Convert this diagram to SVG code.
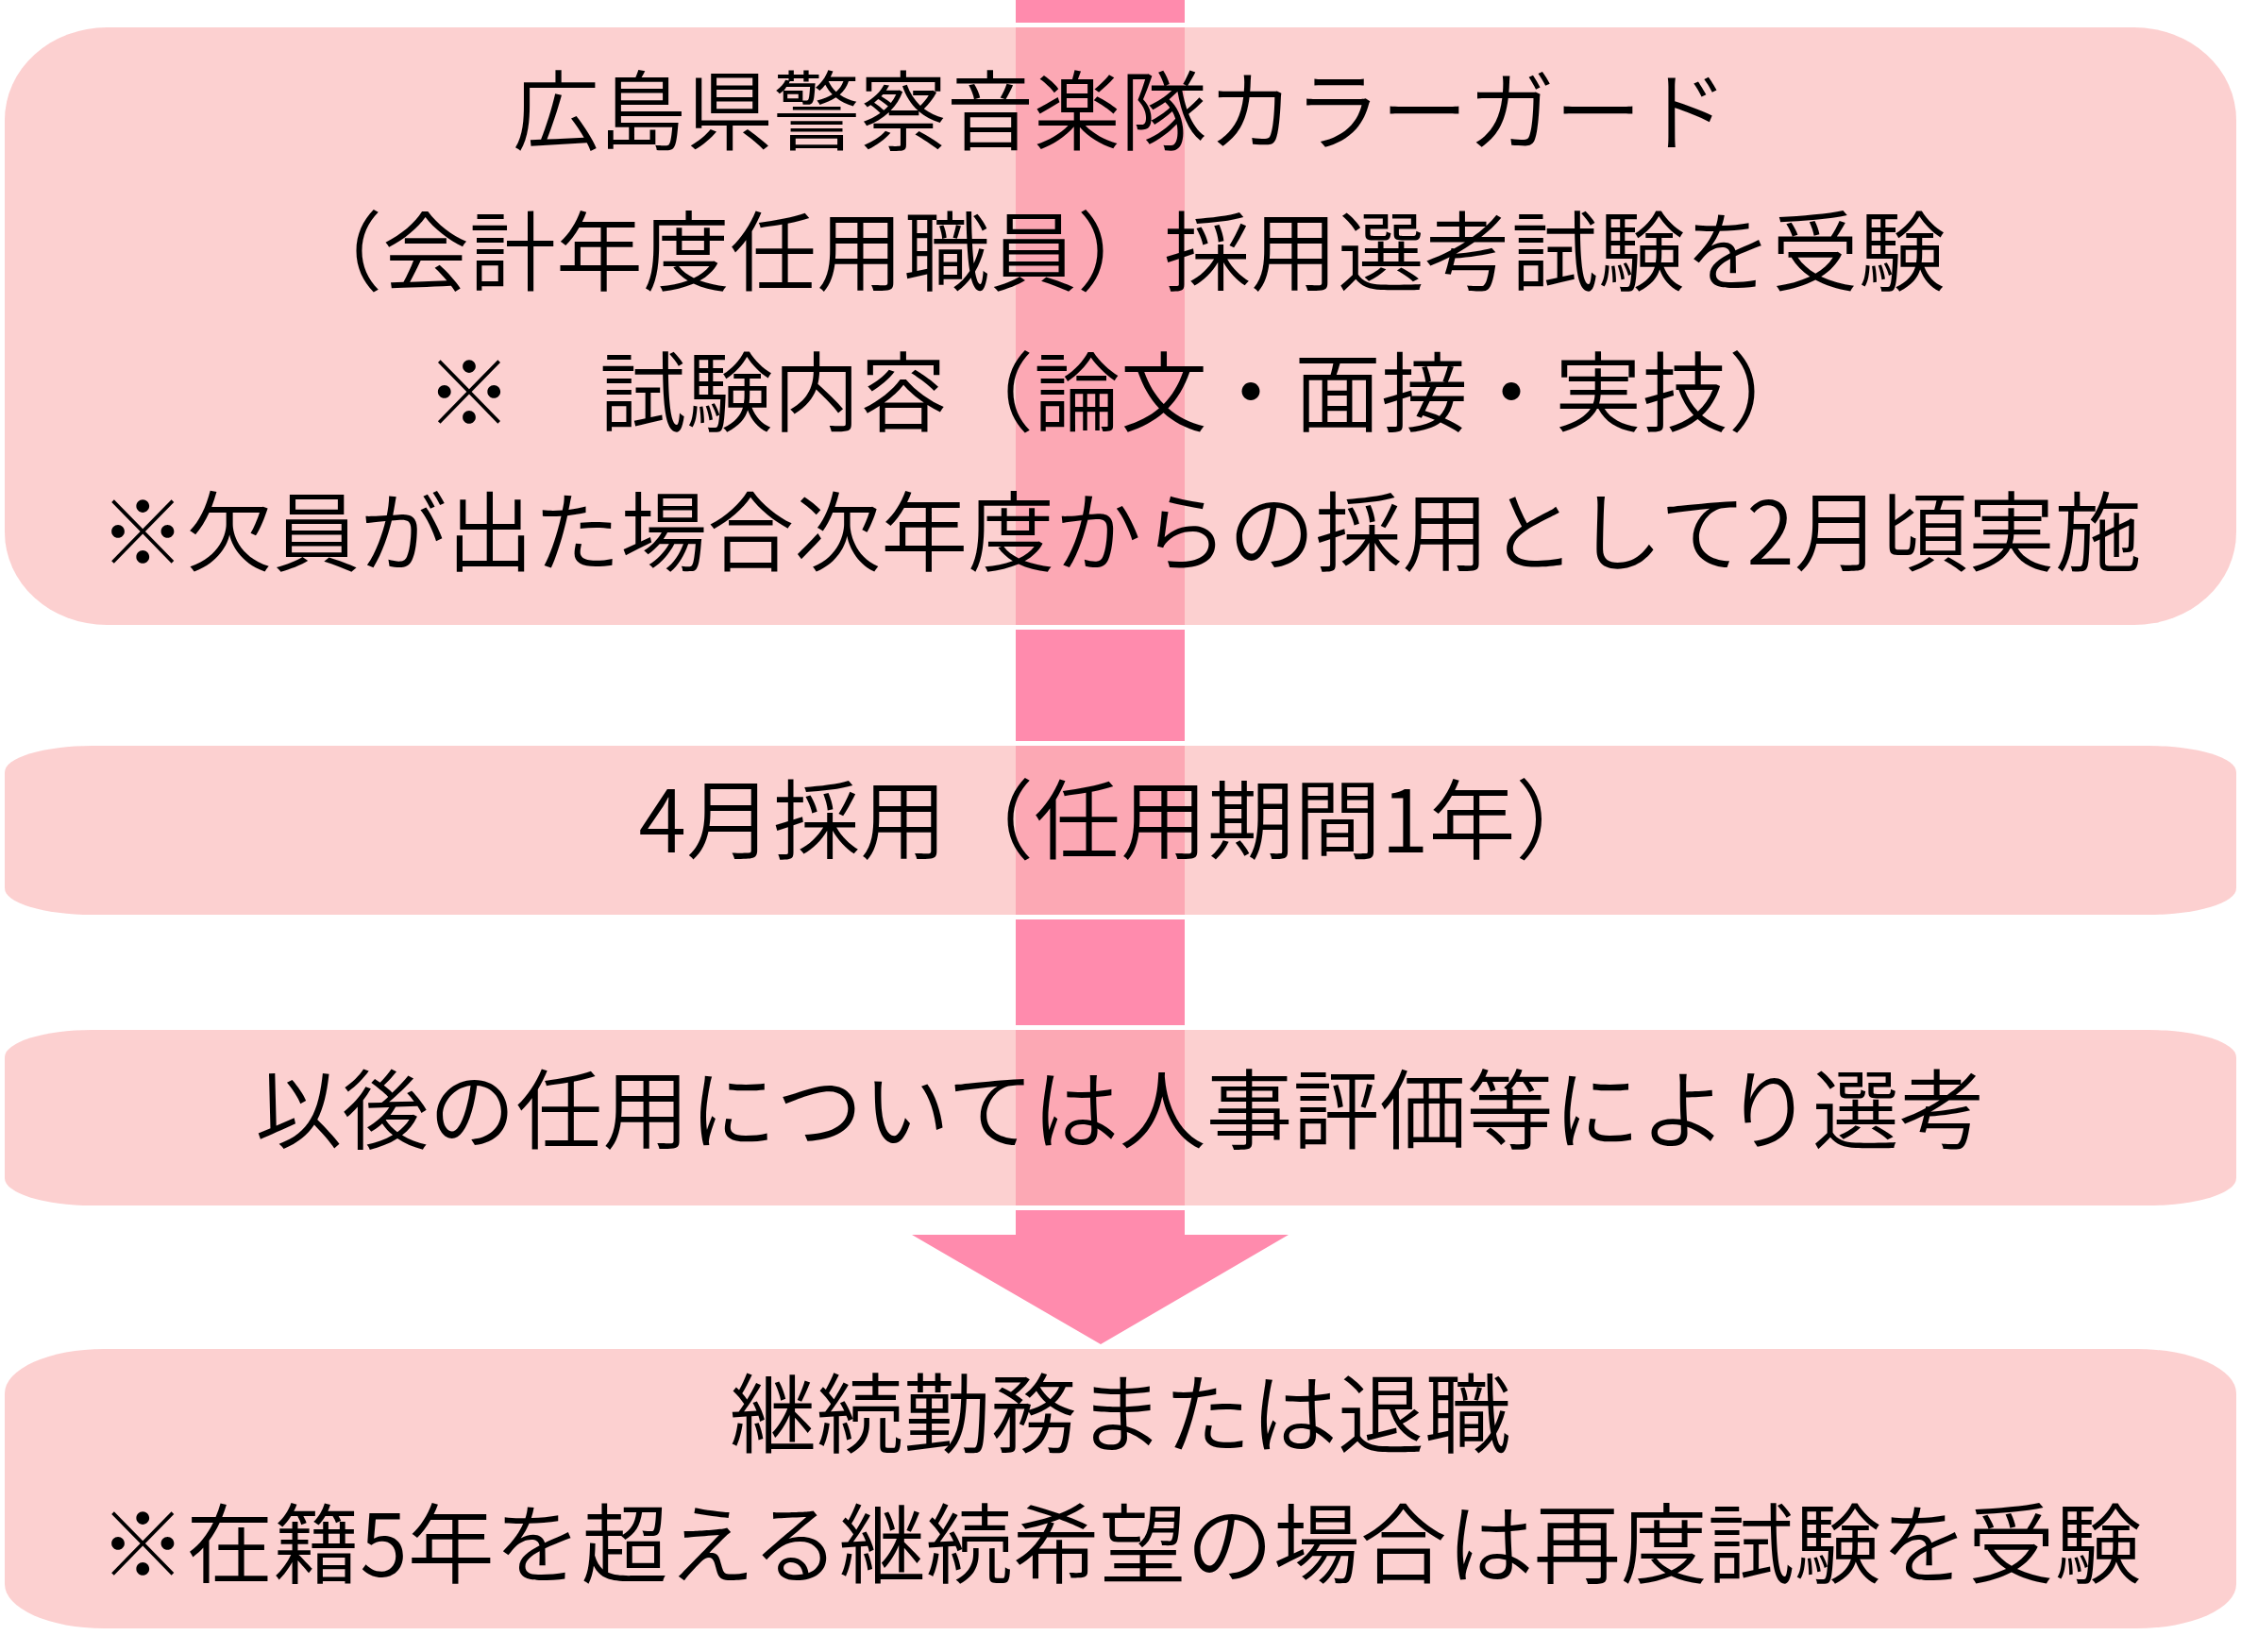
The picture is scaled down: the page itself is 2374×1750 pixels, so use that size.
<svg xmlns="http://www.w3.org/2000/svg" width="2374" height="1750" viewBox="0 0 2374 1750">
  <style>
    .ring { fill: none; stroke: #FFFFFF; stroke-width: 5; }
    .box { fill: rgb(250,183,184); fill-opacity: 0.66; }
    .t { font-family: "Noto Sans CJK JP", "Noto Sans CJK SC", sans-serif; font-size: 92px; font-weight: 350; fill: #000000; text-anchor: middle; }
    .arrow { fill: #FF8BAD; }
  </style>
  <rect x="0" y="0" width="2374" height="1750" fill="#FFFFFF"/>
  <g id="connectors">
    <polygon class="arrow" points="1076,0 1255,0 1255,1308 1365,1308 1166,1424 966,1308 1076,1308"/>
  </g>
  <g id="node1">
    <rect class="ring" x="2.5" y="26.5" width="2369" height="638" rx="110.5" ry="100.5"/>
    <rect class="box" x="5" y="29" width="2364" height="633" rx="108" ry="98"/>
    <text class="t" x="1187" y="152">広島県警察音楽隊カラーガード</text>
    <text class="t" x="1187" y="301">（会計年度任用職員）採用選考試験を受験</text>
    <text class="t" x="1187" y="450">※　試験内容（論文・面接・実技）</text>
    <text class="t" x="1187" y="598">※欠員が出た場合次年度からの採用として2月頃実施</text>
  </g>
  <g id="node2">
    <rect class="ring" x="2.5" y="787.5" width="2369" height="184" rx="94.5" ry="30.5"/>
    <rect class="box" x="5" y="790" width="2364" height="179" rx="92" ry="28"/>
    <text class="t" x="1187" y="903">4月採用（任用期間1年）</text>
  </g>
  <g id="node3">
    <rect class="ring" x="2.5" y="1088.5" width="2369" height="191" rx="94.5" ry="31.5"/>
    <rect class="box" x="5" y="1091" width="2364" height="186" rx="92" ry="29"/>
    <text class="t" x="1187" y="1210">以後の任用については人事評価等により選考</text>
  </g>
  <g id="node4">
    <rect class="ring" x="2.5" y="1426.5" width="2369" height="301" rx="107.5" ry="49.5"/>
    <rect class="box" x="5" y="1429" width="2364" height="296" rx="105" ry="47"/>
    <text class="t" x="1187" y="1532">継続勤務または退職</text>
    <text class="t" x="1187" y="1670">※在籍5年を超える継続希望の場合は再度試験を受験</text>
  </g>
</svg>
